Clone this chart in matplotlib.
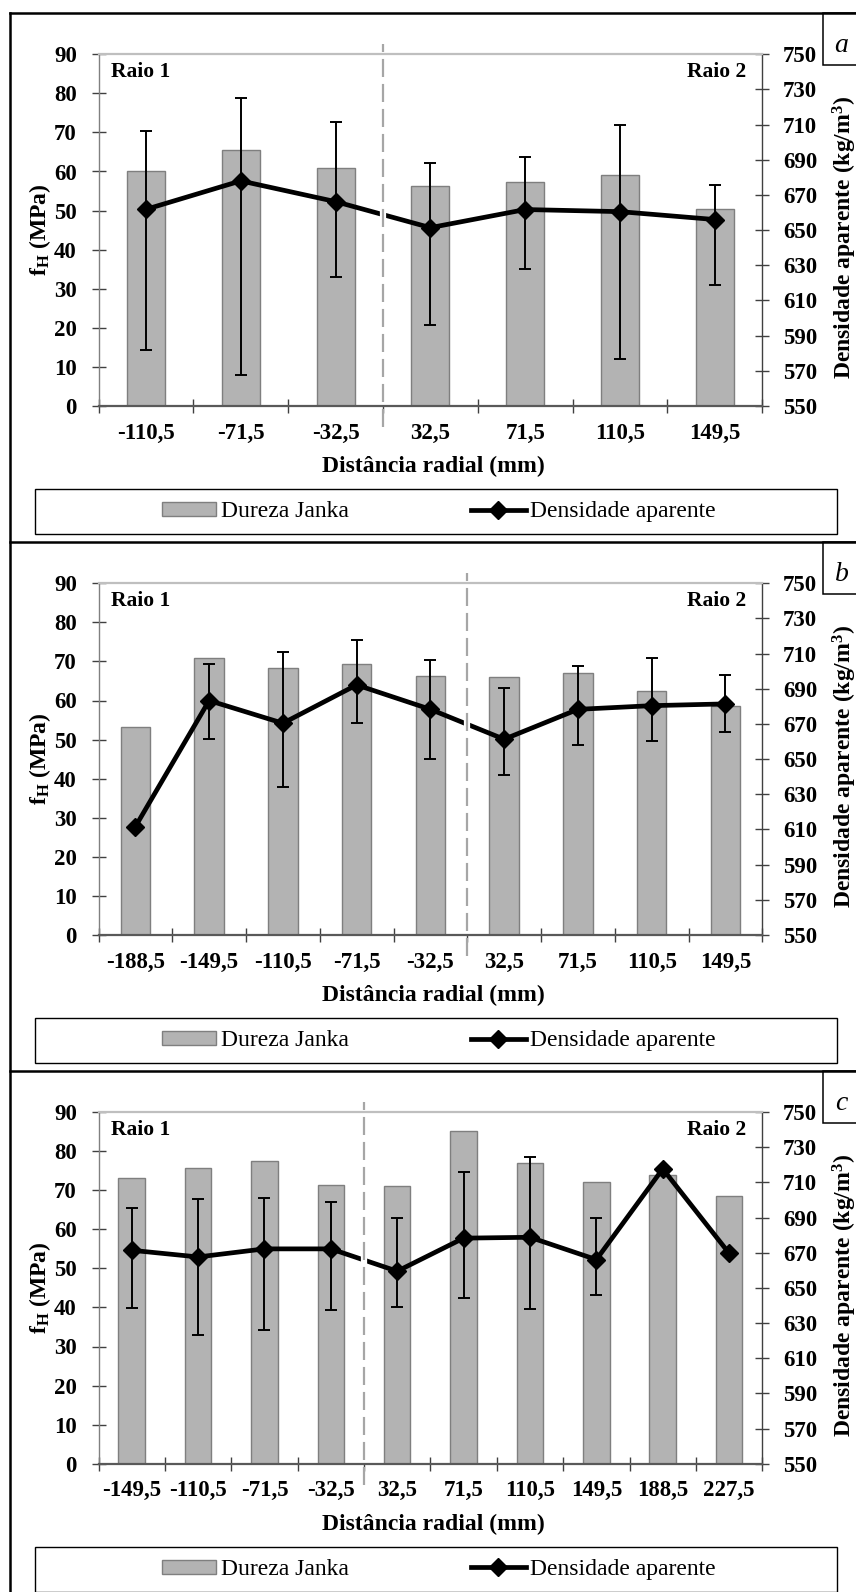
import matplotlib
matplotlib.use('Agg')
import matplotlib.pyplot as plt
import numpy as np
from matplotlib.patches import Rectangle
from matplotlib.lines import Line2D

plt.rcParams['font.family'] = ['Liberation Serif', 'DejaVu Serif']
plt.rcParams['mathtext.fontset'] = 'custom'
plt.rcParams['mathtext.rm'] = 'Liberation Serif'
plt.rcParams['mathtext.bf'] = 'Liberation Serif:bold'
plt.rcParams['mathtext.it'] = 'Liberation Serif:italic'
plt.rcParams['lines.scale_dashes'] = False

nan = np.nan

# ---------------- data ----------------
cats_a = ['-110,5', '-71,5', '-32,5', '32,5', '71,5', '110,5', '149,5']
dureza_a = [60.0, 65.4, 61.0, 56.2, 57.4, 59.0, 50.3]
dens_a = [661.8, 678.0, 666.2, 651.4, 661.7, 660.5, 656.0]
dens_lo_a = [582.0, 567.8, 623.4, 596.3, 627.9, 576.4, 618.6]
dens_hi_a = [706.6, 725.4, 711.7, 688.2, 691.6, 710.0, 675.9]
n_raio1_a = 3

cats_b = ['-188,5', '-149,5', '-110,5', '-71,5', '-32,5', '32,5', '71,5', '110,5', '149,5']
dureza_b = [53.2, 70.8, 68.3, 69.4, 66.3, 66.1, 67.0, 62.5, 58.6]
dens_b = [611.6, 683.3, 670.4, 692.2, 678.3, 661.3, 678.3, 680.4, 681.4]
dens_lo_b = [nan, 661.5, 634.0, 670.4, 649.9, 641.2, 657.9, 660.5, 665.3]
dens_hi_b = [nan, 704.1, 710.8, 718.0, 706.2, 690.5, 703.2, 707.5, 697.9]
n_raio1_b = 5

cats_c = ['-149,5', '-110,5', '-71,5', '-32,5', '32,5', '71,5', '110,5', '149,5', '188,5', '227,5']
dureza_c = [73.1, 75.7, 77.4, 71.3, 71.1, 85.1, 77.0, 72.2, 74.0, 68.5]
dens_c = [671.4, 667.6, 672.2, 672.2, 659.5, 678.3, 678.8, 666.1, 717.7, 669.7]
dens_lo_c = [638.8, 623.4, 625.9, 637.5, 639.2, 644.5, 638.2, 646.2, nan, nan]
dens_hi_c = [695.2, 700.3, 701.2, 698.6, 689.5, 716.2, 724.6, 690.0, nan, nan]
n_raio1_c = 4

letters = ['a', 'b', 'c']
legend_labels = ['Dureza Janka', 'Densidade aparente']
xlabel = 'Distância radial (mm)'
ylabel_left = r'$\mathbf{f}_{\mathbf{H}}$ (MPa)'
ylabel_right = r'Densidade aparente (kg/m$^{\mathbf{3}}$)'

# ---------------- layout ----------------
WPX, HPX = 856, 1592
fig = plt.figure(figsize=(WPX / 100, HPX / 100), dpi=100)
fig.patch.set_facecolor('white')

def fx(x):
    return x / WPX

def fy(y):
    return 1 - y / HPX

BAR_FC = '#B3B3B3'
BAR_EC = '#7F7F7F'
AX_L, AX_R = 98.5, 762.3
panel_tops = [12.7, 541.7, 1070.5]

panels = [
    (cats_a, dureza_a, dens_a, dens_lo_a, dens_hi_a, n_raio1_a),
    (cats_b, dureza_b, dens_b, dens_lo_b, dens_hi_b, n_raio1_b),
    (cats_c, dureza_c, dens_c, dens_lo_c, dens_hi_c, n_raio1_c),
]

TICK_FS = 16.5
LAB_FS = 17

for p, (cats, dur, dens, lo, hi, nr1) in enumerate(panels):
    top = panel_tops[p]
    ax_top = top + 41.6
    ax_bot = top + 393.2
    ax = fig.add_axes([fx(AX_L), fy(ax_bot), (AX_R - AX_L) / WPX, (ax_bot - ax_top) / HPX])
    n = len(cats)
    x = np.arange(n)
    dens = np.array(dens, float)
    lo = np.array(lo, float)
    hi = np.array(hi, float)

    ax.bar(x, dur, width=0.4, color=BAR_FC, edgecolor=BAR_EC, linewidth=1.0, zorder=2)
    ax.set_xlim(-0.5, n - 0.5)
    ax.set_ylim(0, 90)
    ax.set_yticks(np.arange(0, 91, 10))
    ax.set_xticks(x)
    ax.set_xticklabels(cats)
    ax.set_xticks(np.arange(n + 1) - 0.5, minor=True)
    ax.tick_params(axis='x', which='major', length=0, pad=12, labelsize=TICK_FS)
    ax.tick_params(axis='x', which='minor', direction='inout', length=10, width=1, color='#404040')
    ax.tick_params(axis='y', direction='inout', length=10, width=1, color='#404040',
                   pad=10.5, labelsize=TICK_FS)
    for lab in ax.get_xticklabels() + ax.get_yticklabels():
        lab.set_fontweight('bold')
    for s in ['top', 'right', 'bottom']:
        ax.spines[s].set_visible(False)
    ax.spines['left'].set_color('#808080')
    ax.spines['left'].set_linewidth(1.0)

    ax2 = ax.twinx()
    ax2.set_ylim(550, 750)
    ax2.set_yticks(np.arange(550, 751, 20))
    ax2.tick_params(axis='y', direction='inout', length=10, width=1, color='#404040',
                    pad=10, labelsize=TICK_FS)
    for lab in ax2.get_yticklabels():
        lab.set_fontweight('bold')
    ax2.spines['left'].set_visible(False)
    ax2.spines['right'].set_color('#404040')
    ax2.spines['right'].set_linewidth(1.0)
    ax2.spines['top'].set_color('#BFBFBF')
    ax2.spines['top'].set_linewidth(1.6)
    ax2.spines['bottom'].set_color('#595959')
    ax2.spines['bottom'].set_linewidth(1.6)

    ok = ~np.isnan(lo)
    ax2.errorbar(x[ok], dens[ok], yerr=[dens[ok] - lo[ok], hi[ok] - dens[ok]], fmt='none',
                 ecolor='black', elinewidth=1.4, capsize=4.5, capthick=1.4, zorder=2.1)
    ax2.plot(x, dens, color='black', lw=3.4, marker='D', ms=9, mfc='black', mec='black',
             mew=1, zorder=2.2, solid_joinstyle='miter')

    xs = nr1 - 0.5
    ax2.axvline(xs, color='white', lw=4.5, zorder=2.3, solid_capstyle='butt')
    ax2.axvline(xs, ymin=-0.06, ymax=1.03, color='#A6A6A6', lw=1.6, zorder=2.6,
                dashes=(13, 5), clip_on=False)

    ax.text(0.0195, 0.9357, 'Raio 1', transform=ax.transAxes, ha='left', va='baseline',
            fontsize=15.5, fontweight='bold')
    ax.text(0.9755, 0.9357, 'Raio 2', transform=ax.transAxes, ha='right', va='baseline',
            fontsize=15.5, fontweight='bold')

    ax.set_xlabel(xlabel, fontsize=LAB_FS, fontweight='bold')
    ax.xaxis.set_label_coords(0.505, -0.143)
    ax.text(-0.088, 0.5, ylabel_left, transform=ax.transAxes, rotation=90, ha='center',
            va='center', fontsize=LAB_FS, fontweight='bold')
    ax2.text(1.1246, 0.479, ylabel_right, transform=ax.transAxes, rotation=90, ha='center',
             va='center', fontsize=LAB_FS, fontweight='bold')

    # panel frame
    fig.add_artist(Line2D([fx(10), fx(870)], [fy(top), fy(top)], color='black', lw=1.8,
                          transform=fig.transFigure))
    # letter box
    fig.add_artist(Rectangle((fx(823.3), fy(top + 52.3)), fx(60), 52.3 / HPX, facecolor='white',
                             edgecolor='black', lw=1.1, transform=fig.transFigure))
    fig.text(fx(841.5), fy(top + 39), letters[p], ha='center', va='baseline', fontsize=20,
             style='italic')

    # legend box
    lb_top = top + 476.6
    fig.add_artist(Rectangle((fx(35), fy(lb_top + 45)), (836.7 - 35) / WPX, 45 / HPX,
                             facecolor='white', edgecolor='black', lw=1.0,
                             transform=fig.transFigure, zorder=1))
    handles = [Rectangle((0, 0), 1, 1, facecolor=BAR_FC, edgecolor=BAR_EC, lw=1.0),
               Line2D([], [], color='black', lw=3.4, marker='D', ms=9, mfc='black', mec='black')]
    leg = fig.legend(handles, legend_labels, loc='center',
                     bbox_to_anchor=(fx(438.7), fy(lb_top + 22.5)), ncol=2, frameon=False,
                     fontsize=LAB_FS, handlelength=2.3, handletextpad=0.2, columnspacing=5.2,
                     handleheight=0.56, borderpad=0, borderaxespad=0)
    leg.set_zorder(5)

# left frame line
fig.add_artist(Line2D([fx(10), fx(10)], [fy(12.7), fy(1600)], color='black', lw=1.8,
                      transform=fig.transFigure))

fig.savefig('out.png', dpi=100)
